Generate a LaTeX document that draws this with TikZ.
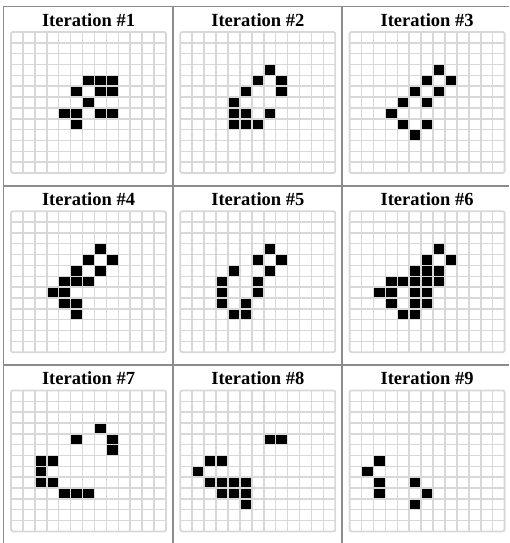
\documentclass[tikz,border=0pt]{standalone}
\usepackage{fontspec}
\setmainfont{Liberation Serif}
\definecolor{gridgray}{HTML}{D8D8D8}
\definecolor{tablegray}{HTML}{8C8C8C}
\begin{document}
\begin{tikzpicture}[x=1pt,y=-1pt,
  tableline/.style={draw=tablegray,line width=1.6pt},
  gridline/.style={draw=gridgray,line width=1.5pt},
  gridframe/.style={draw=gridgray,line width=1.8pt,rounded corners=2pt},
  alive/.style={fill=black},
  titletext/.style={font=\fontsize{18.5}{20}\selectfont\bfseries,text=black,inner sep=0pt,anchor=base}]
\useasboundingbox (0,0) rectangle (509,543);
\fill[white] (0,0) rectangle (509,543);
% table lines
\foreach \vx in {3.5,172.8,342.1} \draw[tableline] (\vx,6.5) -- (\vx,543);
\foreach \hy in {6.5,185.7,364.9} \draw[tableline] (3.5,\hy) -- (509,\hy);
\def\cw{11.923}
\def\ch{10.846}
\foreach \i/\j/\n/\cells in {
 0/0/1/{6/4,7/4,8/4,5/5,7/5,8/5,6/6,4/7,5/7,7/7,8/7,5/8},
 1/0/2/{7/3,6/4,8/4,5/5,8/5,4/6,4/7,5/7,7/7,4/8,5/8,6/8},
 2/0/3/{7/3,6/4,8/4,5/5,7/5,4/6,6/6,3/7,4/8,6/8,5/9},
 0/1/4/{7/3,6/4,8/4,5/5,7/5,4/6,5/6,6/6,3/7,4/7,4/8,5/8,5/9},
 1/1/5/{7/3,6/4,8/4,4/5,7/5,3/6,6/6,3/7,6/7,3/8,5/8,4/9,5/9},
 2/1/6/{7/3,6/4,8/4,5/5,6/5,7/5,3/6,4/6,5/6,6/6,7/6,2/7,3/7,5/7,6/7,3/8,5/8,6/8,4/9,5/9},
 0/2/7/{7/3,5/4,8/4,8/5,2/6,3/6,2/7,2/8,3/8,4/9,5/9,6/9},
 1/2/8/{7/4,8/4,2/6,3/6,1/7,2/8,3/8,4/8,5/8,3/9,4/9,5/9,5/10},
 2/2/9/{2/6,1/7,2/8,5/8,2/9,6/9,5/10}} {
  \pgfmathsetmacro\PX{3.5+169.3*\i}
  \pgfmathsetmacro\PY{6.5+179.2*\j}
  \pgfmathsetmacro\GX{\PX+7.5}
  \pgfmathsetmacro\GY{\PY+25.5}
  \node[titletext] (title\n) at (\PX+85,\PY+20) {Iteration \#\n};
  \foreach \c/\r in \cells {
    \fill[alive] (\GX+\c*\cw,\GY+\r*\ch) rectangle ++(\cw,\ch);
  }
  \foreach \k in {1,...,12} {
    \draw[gridline] (\GX+\k*\cw,\GY) -- (\GX+\k*\cw,\GY+141);
    \draw[gridline] (\GX,\GY+\k*\ch) -- (\GX+155,\GY+\k*\ch);
  }
  \draw[gridframe] (\GX,\GY) rectangle (\GX+155,\GY+141);
}
\end{tikzpicture}
\end{document}
